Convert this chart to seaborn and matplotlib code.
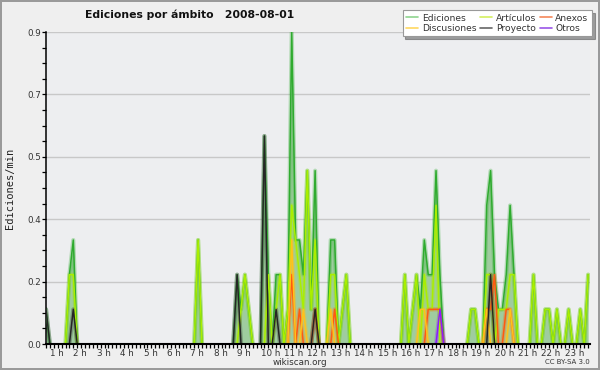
import numpy as np
import pandas as pd
import matplotlib
matplotlib.use("Agg")
import matplotlib.pyplot as plt
import seaborn as sns
from matplotlib.lines import Line2D

# Ediciones por minuto en cada franja de 10 minutos (índice de franja -> valor)
ediciones = {5: 0.1, 11: 0.2, 12: 0.3, 44: 0.3,
             54: 0.2, 55: 0.1, 56: 0.2, 57: 0.1,
             61: 0.6, 62: 0.2, 64: 0.2, 65: 0.2, 67: 0.1, 68: 0.9, 69: 0.3, 70: 0.3,
             71: 0.2, 72: 0.5, 73: 0.1, 74: 0.5, 78: 0.3, 79: 0.3, 81: 0.1, 82: 0.2,
             97: 0.2, 99: 0.1, 100: 0.2, 101: 0.1, 102: 0.3, 103: 0.2, 104: 0.2,
             105: 0.5, 106: 0.2, 114: 0.1, 115: 0.1,
             118: 0.4, 119: 0.5, 120: 0.2, 121: 0.1, 122: 0.1, 123: 0.2, 124: 0.4,
             125: 0.2, 130: 0.2, 133: 0.1, 134: 0.1, 136: 0.1, 139: 0.1, 142: 0.1, 144: 0.2}
articulos = {11: 0.2, 12: 0.2, 44: 0.3, 55: 0.1, 56: 0.2, 57: 0.1,
             62: 0.2, 64: 0.1, 65: 0.2, 67: 0.1, 68: 0.4, 69: 0.3, 70: 0.2, 71: 0.1,
             72: 0.5, 73: 0.1, 74: 0.3, 78: 0.2, 79: 0.2, 81: 0.1, 82: 0.2,
             97: 0.2, 99: 0.1, 100: 0.2, 102: 0.2, 103: 0.1, 104: 0.1, 105: 0.4,
             114: 0.1, 115: 0.1, 118: 0.2, 119: 0.2, 121: 0.1, 122: 0.1, 123: 0.1,
             124: 0.2, 125: 0.2, 130: 0.2, 133: 0.1, 134: 0.1, 136: 0.1, 139: 0.1,
             142: 0.1, 144: 0.2}
anexos = {68: 0.2, 70: 0.1, 74: 0.1, 79: 0.1, 103: 0.1, 104: 0.1, 105: 0.1, 106: 0.1,
          118: 0.1, 119: 0.1, 120: 0.2, 123: 0.1, 124: 0.1}
discusiones = {68: 0.3, 71: 0.1, 78: 0.1, 101: 0.1, 102: 0.1, 118: 0.1, 124: 0.1}
proyecto = {5: 0.1, 12: 0.1, 54: 0.2, 61: 0.6, 64: 0.1, 74: 0.1, 119: 0.2}
otros = {106: 0.1}

franjas = list(range(5, 145))  # 0:50 -> 24:00
horas = [1 + i for i in range(23)]

series = {"Ediciones": ediciones, "Artículos": articulos, "Anexos": anexos,
          "Discusiones": discusiones, "Proyecto": proyecto, "Otros": otros}
colores = {"Ediciones": "#2fab2f", "Artículos": "#aaee00", "Anexos": "#ff5a10",
           "Discusiones": "#ffc21a", "Proyecto": "#262626", "Otros": "#8a1cff"}
colores_leyenda = {"Ediciones": "#8fd48f", "Artículos": "#d4f060", "Anexos": "#f5885a",
                   "Discusiones": "#ffd860", "Proyecto": "#666666", "Otros": "#9a55e8"}

# tramos visibles: se omiten las zonas largas a cero (quedan bajo el eje)
filas = []
for nombre, datos in series.items():
    vals = [datos.get(f, 0.0) for f in franjas]
    tramo, previo = 0, False
    for k, f in enumerate(franjas):
        vecinos = vals[max(k - 1, 0):k + 2]
        visible = any(v > 0 for v in vecinos)
        if visible and not previo:
            tramo += 1
        if visible:
            filas.append({"hora": f / 6, "valor": vals[k], "ambito": nombre,
                          "tramo": f"{nombre}-{tramo}"})
        previo = visible
df = pd.DataFrame(filas)

sns.set_style("white", {"axes.facecolor": "#edeef0"})
plt.rcParams["font.family"] = ["DejaVu Sans"]

fig = plt.figure(figsize=(6, 3.7), dpi=100, facecolor="#efefef",
                 edgecolor="#9a9a9a", linewidth=1.5)
ax = fig.add_axes([46 / 600, 26 / 370, 544 / 600, 312 / 370])

# relleno bajo el total
tot_x = [f / 6 for f in franjas]
tot_y = [ediciones.get(f, 0.0) for f in franjas]
ax.fill_between(tot_x, tot_y, color="#9fcc9f", lw=0, zorder=1)

orden = list(series.keys())
# halo difuso + línea
sns.lineplot(data=df, x="hora", y="valor", hue="ambito", hue_order=orden,
             units="tramo", estimator=None, palette=colores, lw=3.0, alpha=0.3,
             legend=False, ax=ax, zorder=2)
sns.lineplot(data=df, x="hora", y="valor", hue="ambito", hue_order=orden,
             units="tramo", estimator=None, palette=colores, lw=1.1,
             legend=False, ax=ax, zorder=3)

ax.set_xlabel("")
ax.set_ylabel("")

ax.set_xticks(horas)
ax.set_xticklabels([f"{h} h" for h in horas])
ax.set_xticks(np.arange(5, 145) / 6, minor=True)
for t in ax.get_xticklabels():
    t.set_ha("left")
yt = np.linspace(0, 0.9, 6)
ax.set_yticks(yt)
ax.set_yticklabels([f"{v:.1f}" for v in yt])
ax.set_yticks(np.linspace(0, 0.9, 21), minor=True)
ax.set_xlim(5 / 6, 24.08)
ax.set_ylim(0, 0.9)
ax.yaxis.grid(True, which="major", color="#c8c8c8", lw=1)
ax.set_axisbelow(True)

ax.tick_params(axis="both", which="both", direction="out", length=3, width=0.9,
               color="black", labelsize=6.3, labelcolor="#333333", pad=0.5,
               bottom=True, left=True)
for s in ["top", "right"]:
    ax.spines[s].set_visible(False)
ax.spines["left"].set_color("black")
ax.spines["left"].set_linewidth(1.1)
ax.spines["bottom"].set_color("black")
ax.spines["bottom"].set_linewidth(1.5)
ax.spines["bottom"].set_zorder(5)

fig.text(10 / 600, 1 - 188 / 370, "Ediciones/min", rotation=90, ha="center",
         va="center", fontsize=7.5, family="DejaVu Sans Mono", color="#222222")
fig.text(85 / 600, 1 - 15 / 370, "Ediciones por ámbito   2008-08-01",
         fontsize=7.8, fontweight="bold", ha="left", va="center", color="#111111")
fig.text(300 / 600, 1 - 362.5 / 370, "wikiscan.org", fontsize=6.3, ha="center",
         va="center", color="#333333")
fig.text(590 / 600, 1 - 362.5 / 370, "CC BY-SA 3.0", fontsize=5, ha="right",
         va="center", color="#333333")

# orden por columnas para que las filas queden: Ediciones/Artículos/Anexos, Discusiones/Proyecto/Otros
orden_leyenda = ["Ediciones", "Discusiones", "Artículos", "Proyecto", "Anexos", "Otros"]
handles = [Line2D([], [], color=colores_leyenda[n], lw=1.2) for n in orden_leyenda]
leg = fig.legend(handles, orden_leyenda, loc="upper right",
                 bbox_to_anchor=(592 / 600, 1 - 10 / 370),
                 ncol=3, fontsize=6.6, frameon=True, fancybox=False, shadow=True,
                 handlelength=1.3, handletextpad=0.4, columnspacing=0.4,
                 labelspacing=0.12, borderpad=0.4, borderaxespad=0)
leg.get_frame().set_edgecolor("#999999")
leg.get_frame().set_facecolor("white")
leg.get_frame().set_linewidth(0.8)
for t in leg.get_texts():
    t.set_color("#333333")

fig.savefig("out.png", dpi=100, facecolor=fig.get_facecolor(), edgecolor=fig.get_edgecolor())
